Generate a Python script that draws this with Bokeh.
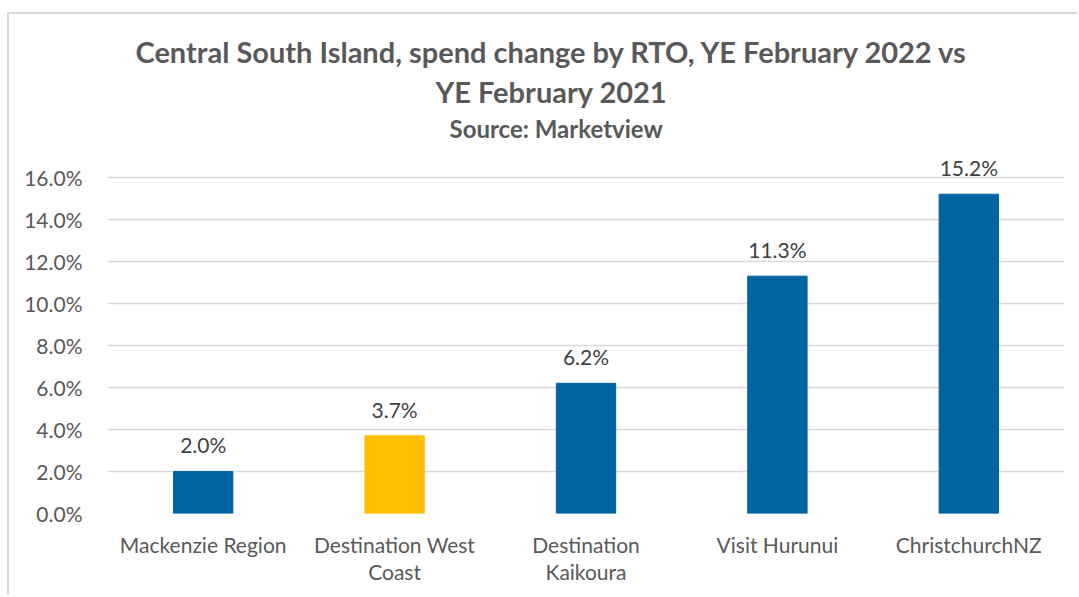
from bokeh.plotting import figure
from bokeh.models import ColumnDataSource, FixedTicker, NumeralTickFormatter, Title, Range1d
from bokeh.core.properties import value
from bokeh.embed import file_html
from bokeh.resources import INLINE

categories = ["Mackenzie Region", "Destination West\nCoast", "Destination\nKaikoura", "Visit Hurunui", "ChristchurchNZ"]
values = [0.020, 0.037, 0.062, 0.113, 0.152]
labels = ["2.0%", "3.7%", "6.2%", "11.3%", "15.2%"]
colors = ["#0064A2", "#FFC000", "#0064A2", "#0064A2", "#0064A2"]
y_ticks = [0.0, 0.02, 0.04, 0.06, 0.08, 0.10, 0.12, 0.14, 0.16]

FONT = "Lato"
TXT = "#595959"

src = ColumnDataSource(dict(cat=categories, val=values, lab=labels, col=colors))

W, H = 1077, 595
p = figure(x_range=categories, y_range=Range1d(0, 0.1752), width=W, height=H,
           output_backend="svg", toolbar_location=None,
           min_border_left=107, min_border_right=W - 1064, min_border_top=145, min_border_bottom=H - 513)
p.outline_line_color = None
p.background_fill_color = "white"
p.border_fill_alpha = 0
p.styles = {
    "background-color": "white",
    "background-image": "linear-gradient(#D9D9D9, #D9D9D9), linear-gradient(#D9D9D9, #D9D9D9)",
    "background-repeat": "no-repeat",
    "background-position": "7px 12px, 7px 12px",
    "background-size": "2px 100%, 100% 2px",
}

p.vbar(x="cat", top="val", width=0.31, color="col", source=src)
p.text(x="cat", y="val", text="lab", source=src, y_offset=-14,
       text_align="center", text_baseline="bottom",
       text_font=value(FONT), text_font_size="21px", text_color="#404040")

p.xgrid.grid_line_color = None
p.ygrid.grid_line_color = "#D9D9D9"
p.ygrid.grid_line_width = 1.5
p.yaxis.ticker = FixedTicker(ticks=y_ticks)
p.yaxis.formatter = NumeralTickFormatter(format="0.0%")

for ax in (p.xaxis, p.yaxis):
    ax.axis_line_color = None
    ax.major_tick_line_color = None
    ax.minor_tick_line_color = None
    ax.major_label_text_font = FONT
    ax.major_label_text_font_size = "21px"
    ax.major_label_text_color = TXT
p.yaxis.major_label_standoff = 19
p.xaxis.major_label_standoff = 12
p.xaxis.major_label_text_line_height = 1.1

for txt, size, off, so in [("Source: Marketview", "24px", 342, 6),
                           ("YE February 2021", "29px", 328, 0),
                           ("Central South Island, spend change by RTO, YE February 2022 vs", "29px", 28, 5)]:
    p.add_layout(Title(text=txt, align="left", offset=off, standoff=so,
                       text_font=FONT, text_font_style="bold",
                       text_font_size=size, text_color=TXT), "above")

open("out.html", "w").write(file_html(p, INLINE))
